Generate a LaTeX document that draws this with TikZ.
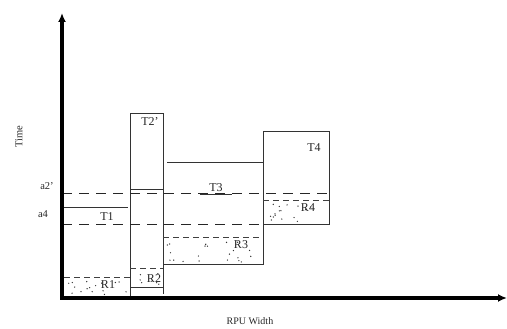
\documentclass[tikz,border=0pt]{standalone}
\usepackage{fontspec}
\setmainfont{Liberation Serif}
\usetikzlibrary{arrows.meta}
\tikzset{
  axis/.style={line width=3.6pt,-{Latex[length=9pt,width=8pt]}},
  boxline/.style={line width=0.9pt,draw=black!80},
  aline/.style={line width=1pt,draw=black!85,dash pattern=on 10pt off 7pt},
  rline/.style={line width=0.85pt,draw=black!75,dash pattern=on 6pt off 4pt},
  lab/.style={font=\fontsize{12}{14}\selectfont,text=black!85,inner sep=0pt},
  dotfill/.style={fill=black!80},
}
\begin{document}
\begin{tikzpicture}[x=1pt,y=-1pt]
\useasboundingbox (0,0) rectangle (507,329);
% dotted regions (random dots)
\pgfmathsetseed{7}
\foreach \k in {1,...,16}{\pgfmathsetmacro\xx{65+rnd*62}\pgfmathsetmacro\yy{280+rnd*15}\fill[dotfill] (\xx,\yy) circle (0.7);}
\foreach \k in {1,...,7}{\pgfmathsetmacro\xx{133+rnd*27}\pgfmathsetmacro\yy{271+rnd*14}\fill[dotfill] (\xx,\yy) circle (0.7);}
\foreach \k in {1,...,22}{\pgfmathsetmacro\xx{167+rnd*92}\pgfmathsetmacro\yy{241+rnd*21}\fill[dotfill] (\xx,\yy) circle (0.7);}
\foreach \k in {1,...,16}{\pgfmathsetmacro\xx{267+rnd*60}\pgfmathsetmacro\yy{204+rnd*18}\fill[dotfill] (\xx,\yy) circle (0.7);}
% coordinates
\coordinate (O) at (62,298);
\coordinate (Ytop) at (62,13);
\coordinate (Xend) at (507,298);
% T1
\draw[boxline] (62,207) -- (128,207);
\draw[boxline] (130,298) -- (130,113);
% T2
\draw[boxline] (130,113) -- (163,113) -- (163,294);
\draw[boxline] (130,189) -- (163,189);
\draw[boxline] (130,287) -- (163,287);
% T3
\draw[boxline] (167,162) -- (263,162);
\draw[boxline] (163,264) -- (263,264) -- (263,131);
% T4
\draw[boxline] (263,131) -- (329,131) -- (329,224) -- (263,224);
% a lines
\draw[aline] (62,194) -- (329,194);
\draw[aline] (62,224) -- (263,224);
% R tops
\draw[rline] (64,277) -- (130,277);
\draw[rline] (130,268) -- (163,268);
\draw[rline] (163,237) -- (263,237);
\draw[rline] (263,200) -- (329,200);
\draw[boxline] (200,194) -- (232,194);
% axes
\draw[axis] (O) -- (Ytop);
\draw[axis] ([xshift=-1.8pt]O) -- (Xend);
% labels
\node[lab] (t1) at (107,217) {T1};
\node[lab] (t2) at (150,122) {T2'};
\node[lab] (t3) at (216,188) {T3};
\node[lab] (t4) at (314,148) {T4};
\node[lab] (r1) at (108,285) {R1};
\node[lab] (r2) at (154,279) {R2};
\node[lab] (r3) at (241,245) {R3};
\node[lab] (r4) at (308,208) {R4};
\node[lab,font=\fontsize{10.5}{12}\selectfont] (a2) at (47,186) {a2'};
\node[lab,font=\fontsize{10.5}{12}\selectfont] (a4) at (43,214) {a4};
\node[lab,font=\fontsize{10.5}{12}\selectfont,rotate=90] (time) at (19,137) {Time};
\node[lab,font=\fontsize{10}{12}\selectfont] (rpu) at (250,321) {RPU Width};
\end{tikzpicture}
\end{document}
